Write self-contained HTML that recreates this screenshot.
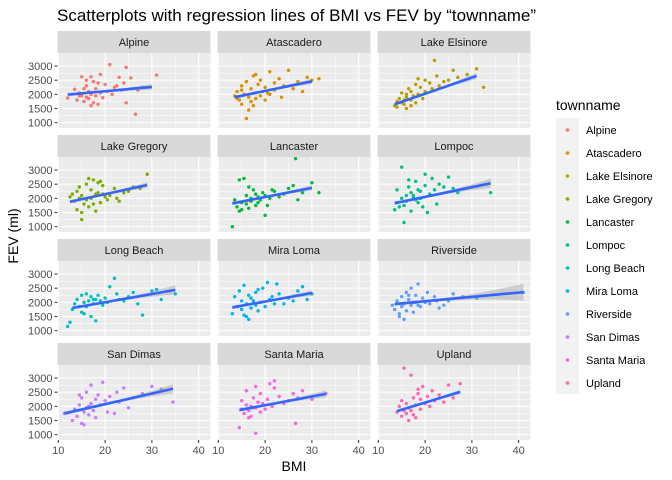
<!DOCTYPE html>
<html><head><meta charset="utf-8"><style>
body{margin:0;background:#fff}
svg{display:block;font-family:"Liberation Sans",Arial,sans-serif}
</style></head><body>
<svg id="chart" width="672" height="480" viewBox="0 0 672 480" xmlns="http://www.w3.org/2000/svg">
<text x="57" y="21" font-size="17" fill="#000">Scatterplots with regression lines of BMI vs FEV by “townname”</text>
<text x="294" y="471" font-size="14" text-anchor="middle" fill="#000">BMI</text>
<text x="0" y="0" font-size="14" text-anchor="middle" fill="#000" transform="translate(18,236) rotate(-90)">FEV (ml)</text>
<g id="panels"></g>
<g id="legend">
<text x="556" y="110" font-size="14" fill="#000">townname</text>
<rect x="556" y="118" width="23" height="276" fill="#F2F2F2"/>
</g>
</svg>
<script>
const towns=["Alpine","Atascadero","Lake Elsinore","Lake Gregory","Lancaster","Lompoc","Long Beach","Mira Loma","Riverside","San Dimas","Santa Maria","Upland"];
const colors=["#F8766D","#DE8C00","#B79F00","#7CAE00","#00BA38","#00C08B","#00BFC4","#00B4F0","#619CFF","#C77CFF","#F564E3","#FF64B0"];
const xTicks=[10,20,30,40];
const yTicks=[1000,1500,2000,2500,3000];
const bmiAlpine=[12,13.5,14,14.5,15,15,15.5,16,16,16.5,16.5,17,17,17.5,17.5,18,18,18.5,18.5,19,19,19.5,20,20.5,21,21.5,22,22.5,23,23.5,24,24.5,24.5,25.5,26.5,27,28,31,15.5,17,14.5,16];
const fevAlpine=[1870,2180,1800,2050,2620,1950,1750,2300,1900,2100,1850,2620,2000,2450,1700,2200,1950,2400,1650,2700,2050,1880,2350,2100,3050,2000,2250,2300,2600,2150,2400,2950,1700,2580,1300,2150,2250,2680,2200,1600,1950,2500];
const bmiAtascadero=[13.5,14,14.5,15,15,15.5,16,16,16.5,17,17,17.5,18,18,18.5,19,19,19.5,20,20,21,21,22,22,23,23.5,24,25,26,27,28,29,30,31.5,16.5,18,15,17.5,14,20.5];
const fevAtascadero=[1950,2100,1800,2300,1650,2000,2450,1150,1900,2200,1750,2650,2050,1850,2350,1950,2500,2100,2250,1800,2800,2000,2150,2400,2550,1900,2300,2850,2200,2450,2100,2600,2500,2550,1450,2700,2150,1600,1850,2050];
const bmiElsinore=[13.5,14,14,14.5,15,15,15.5,16,16,16.5,17,17,17.5,18,18,18.5,19,19.5,20,20,21,21.5,22,22.5,23,24,25,26,27,29,31,32.5,15.5,17,18.5,16];
const fevElsinore=[1600,1750,1550,1850,1700,2050,1650,1900,1500,2200,1800,2100,1950,1700,2350,2000,2250,1850,2500,2100,2400,2200,3200,2650,2300,2450,2500,2850,2600,2700,2900,2250,1800,1600,2550,2000];
const bmiGregory=[12.5,13,13.5,14,14,14.5,15,15,15.5,16,16,16.5,17,17,17.5,18,18,18.5,19,19,19.5,20,20.5,21,22,22.5,23,24,25,26,27.5,29,15,16.5,17.5,14.5,18.5,19.5];
const fevGregory=[2050,2150,1900,2250,1600,2400,1500,2100,1800,2500,1950,1700,2300,2000,2650,2150,1550,2200,2600,1850,2450,2050,1950,2100,2350,2000,1900,2200,2250,2400,2350,2850,1250,2700,1800,2000,2550,2150];
const bmiLancaster=[13,13.5,14,14.5,15,15,15.5,16,16,16.5,17,17,17.5,18,18,18.5,19,19.5,20,20,21,21.5,22,23,24,25,26,26.5,27,28,30,31.5,14.5,16.5,18.5,20.5];
const fevLancaster=[1000,1950,1700,2650,1850,1600,2700,1800,2100,1650,2000,1900,2300,1750,2150,2050,1950,2200,1400,2100,2000,2300,2250,2050,2150,2350,2450,3400,1950,2200,2550,2200,1550,2400,1850,1750];
const bmiLompoc=[13.5,14,14,14.5,15,15,15.5,16,16,16.5,17,17,17.5,18,18,18.5,19,19.5,20,20.5,21,21.5,22,22.5,23,24,25,26,27,15.5,17.5,19,20,34,16.5,18.5];
const fevLompoc=[1600,1850,2300,1700,2000,3100,1750,2100,1900,2400,1550,2200,2050,1950,2600,1850,2250,1700,2450,1500,2150,2700,2300,1800,2500,2400,2750,2350,2200,1150,2100,2000,2850,2200,2650,2300];
const bmiLongBeach=[12,12.5,13,13.5,14,14.5,15,15,15.5,16,16,16.5,17,17,17.5,18,18,18.5,19,19.5,20,20.5,21,22,22.5,23,24,25,26,27,28,30,31,32,35,15.5,17.5];
const fevLongBeach=[1150,1300,1750,1950,2100,1850,2250,1650,2000,2300,1850,2050,1500,2200,1950,2100,1350,2250,2050,1900,2150,2000,2550,2850,2300,2100,2050,2200,2350,1950,1550,2400,2450,2100,2300,1600,2100];
const bmiMiraLoma=[13,13.5,14,14.5,15,15,15.5,16,16,16.5,17,17,17.5,18,18,18.5,19,19.5,20,20.5,21,21.5,22,22.5,23,24,25,26,27,28,29,30,16.5,18.5,15.5];
const fevMiraLoma=[1600,2200,1850,2400,1750,2050,2600,1950,1500,2250,1800,2150,2050,1900,2350,1700,2000,2500,1850,2700,2100,2200,1950,2650,2300,1950,2150,2050,2400,2550,2100,2300,1400,2450,1550];
const bmiRiverside=[13,13.5,14,14.5,15,15,15.5,16,16,16.5,17,17,17.5,18,18,18.5,19,19.5,20,20.5,21,22,22.5,23,24,25,26,28,31,41,14.5,16.5,18.5,15.5,17.5];
const fevRiverside=[1900,1750,2050,1600,2200,1850,1950,2350,1700,2100,1900,2500,1650,2250,2000,2650,1850,2150,2000,2350,1950,2200,2050,1800,1900,2050,2300,2200,2150,2350,1500,2250,1900,1400,2000];
const bmiSanDimas=[11.3,13,13.5,14,14.5,15,15,15.5,16,16,16.5,17,17,17.5,18,18,18.5,19,19.5,20,20.5,21,22,22.5,23,24,25,26,28,30,32,34.5,15.5,16.5,14.5];
const fevSanDimas=[1750,1500,1900,1650,2050,1400,2300,1800,2500,1950,1700,2750,2100,1850,2250,1600,2400,2050,2850,2200,1800,2350,1750,2500,2150,2650,1950,2300,2450,2700,2600,2150,1350,2000,2400];
const bmiSantaMaria=[14.5,15,15,15.5,16,16,16.5,17,17,17.5,18,18,18.5,19,19,19.5,20,20.5,21,21.5,22,23,24,25,26,26.5,27,28,30,33,16.5,18,22,17.5];
const fevSantaMaria=[1250,1900,2200,1750,2050,2550,1850,2000,1650,2300,1050,1950,2150,2450,1800,2100,1900,2250,2800,2000,2650,2350,2100,2200,2450,1400,2300,2550,2250,2450,1600,2700,2900,1950];
const bmiUpland=[14,14.5,15,15,15.5,16,16,16.5,17,17,17.5,18,18,18.5,19,19,19.5,20,20.5,21,21.5,22,23,24,25,26,27.5,16.5,18.5,17.5,15.5];
const fevUpland=[1800,2000,1650,2200,3350,1750,2100,1950,3100,1850,2300,1600,2050,2450,1900,2250,2700,2100,2350,2000,2550,2200,2400,2150,2750,2300,2800,1500,2600,1700,1850];
const bmiSeries=[bmiAlpine,bmiAtascadero,bmiElsinore,bmiGregory,bmiLancaster,bmiLompoc,bmiLongBeach,bmiMiraLoma,bmiRiverside,bmiSanDimas,bmiSantaMaria,bmiUpland];
const fevSeries=[fevAlpine,fevAtascadero,fevElsinore,fevGregory,fevLancaster,fevLompoc,fevLongBeach,fevMiraLoma,fevRiverside,fevSanDimas,fevSantaMaria,fevUpland];
const fitStartBMI=[12,13.5,13.5,12.5,13,13.5,13,13,13.5,11.3,14.5,14];
const fitStartFEV=[1990,1900,1650,1880,1820,1830,1800,1820,1940,1750,1870,1830];
const fitEndBMI=[30,30,31,29,30,34,35,30,41,34.5,33,27.5];
const fitEndFEV=[2260,2460,2650,2470,2370,2530,2440,2330,2360,2620,2440,2510];

const NS="http://www.w3.org/2000/svg";
const colX=[57.5,217.5,377.5], PW=153, PH=75, rowTop=[53,157,261,365];
const xMin=9.83, xPx=4.68;
function sx(c,v){return colX[c]+(v-xMin)*xPx;}
function sy(r,v){return rowTop[r]+13+(3000-v)*0.02835;}
function mk(tag,attrs,parent){const e=document.createElementNS(NS,tag);for(const k in attrs)e.setAttribute(k,attrs[k]);parent.appendChild(e);return e;}
const G=document.getElementById('panels');
towns.forEach((t,i)=>{
  const c=i%3,r=Math.floor(i/3);
  const g=mk('g',{},G);
  
  
  const strip=mk('rect',{x:colX[c],y:rowTop[r]-22,width:PW,height:22,fill:'#D9D9D9'},g);
  
  
  const st=mk('text',{x:colX[c]+PW/2,y:rowTop[r]-7,'font-size':11,'text-anchor':'middle',fill:'#1A1A1A'},g);
  st.textContent=t;
  
  
  const bg=mk('rect',{x:colX[c],y:rowTop[r],width:PW,height:PH,fill:'#EBEBEB'},g);
  
  
  [15,25,35].forEach(v=>mk('line',{x1:sx(c,v),x2:sx(c,v),y1:rowTop[r],y2:rowTop[r]+PH,stroke:'#fff','stroke-width':0.5},g));
  [1250,1750,2250,2750].forEach(v=>mk('line',{x1:colX[c],x2:colX[c]+PW,y1:sy(r,v),y2:sy(r,v),stroke:'#fff','stroke-width':0.5},g));
  xTicks.forEach(v=>mk('line',{x1:sx(c,v),x2:sx(c,v),y1:rowTop[r],y2:rowTop[r]+PH,stroke:'#fff','stroke-width':1.1},g));
  yTicks.forEach(v=>mk('line',{x1:colX[c],x2:colX[c]+PW,y1:sy(r,v),y2:sy(r,v),stroke:'#fff','stroke-width':1.1},g));
  if(c===0){yTicks.forEach(v=>{
    mk('line',{x1:colX[c]-3,x2:colX[c],y1:sy(r,v),y2:sy(r,v),stroke:'#333','stroke-width':1},g);
    const tl=mk('text',{x:colX[c]-5,y:sy(r,v)+4,'font-size':11,'text-anchor':'end',fill:'#4D4D4D'},g);
    tl.textContent=v;
    
    
  });}
  if(r===3){xTicks.forEach(v=>{
    mk('line',{x1:sx(c,v),x2:sx(c,v),y1:rowTop[r]+PH,y2:rowTop[r]+PH+3,stroke:'#333','stroke-width':1},g);
    const tl=mk('text',{x:sx(c,v),y:rowTop[r]+PH+14,'font-size':11,'text-anchor':'middle',fill:'#4D4D4D'},g);
    tl.textContent=v;
    
    
  });}
  const bm=bmiSeries[i],fv=fevSeries[i];
  bm.forEach((b,k)=>{
    const p=mk('circle',{cx:sx(c,b),cy:sy(r,fv[k]),r:1.7,fill:colors[i]},g);
    
    
  });
  const x0=fitStartBMI[i],x1=fitEndBMI[i],y0=fitStartFEV[i],y1=fitEndFEV[i];
  const mean=bm.reduce((a,b)=>a+b,0)/bm.length;
  const up=[],dn=[];
  for(let s=0;s<=20;s++){
    const xv=x0+(x1-x0)*s/20,yv=y0+(y1-y0)*s/20;
    const hw=40+0.55*(xv-mean)*(xv-mean);
    up.push(sx(c,xv)+','+sy(r,yv+hw));dn.unshift(sx(c,xv)+','+sy(r,yv-hw));
  }
  const band=mk('polygon',{points:up.concat(dn).join(' '),fill:'#999','fill-opacity':0.4},g);
  
  
  const ln=mk('line',{x1:sx(c,x0),y1:sy(r,y0),x2:sx(c,x1),y2:sy(r,y1),stroke:'#3366FF','stroke-width':2.6},g);
  
  
});
const L=document.getElementById('legend');
towns.forEach((t,i)=>{
  const y=130+23*i;
  const d=mk('circle',{cx:567.5,cy:y,r:1.8,fill:colors[i]},L);
  
  
  const tx=mk('text',{x:586,y:y+4,'font-size':11,fill:'#000'},L);
  tx.textContent=t;
  
  
});
</script>
</body></html>
